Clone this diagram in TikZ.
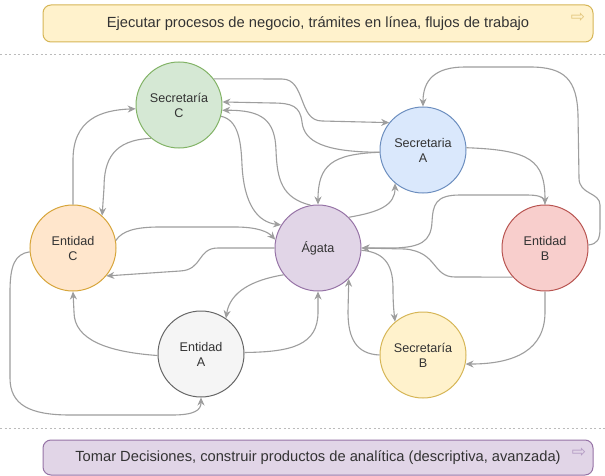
\documentclass[tikz,border=0pt]{standalone}
\usepackage{fontspec}
\setmainfont{Liberation Sans}
\newfontfamily\symfont{DejaVu Sans}
\usetikzlibrary{arrows.meta}
\definecolor{edgegray}{HTML}{9E9E9E}
\definecolor{textc}{HTML}{333333}
\definecolor{greenF}{HTML}{D5E8D4}\definecolor{greenS}{HTML}{82B366}
\definecolor{blueF}{HTML}{DAE8FC}\definecolor{blueS}{HTML}{6C8EBF}
\definecolor{orangeF}{HTML}{FFE6CC}\definecolor{orangeS}{HTML}{D7A53A}
\definecolor{purpleF}{HTML}{E1D5E7}\definecolor{purpleS}{HTML}{9673A6}
\definecolor{redF}{HTML}{F8CECC}\definecolor{redS}{HTML}{B85450}
\definecolor{grayF}{HTML}{F5F5F5}\definecolor{grayS}{HTML}{666666}
\definecolor{yelF}{HTML}{FFF2CC}\definecolor{yelS}{HTML}{D6B656}
\definecolor{sepc}{HTML}{BBBBBB}
\definecolor{glyphY}{HTML}{E3C77E}\definecolor{glyphP}{HTML}{B49CC4}
\begin{document}
\begin{tikzpicture}[x=1pt,y=-1pt,
  circ/.style={circle, minimum size=86pt, inner sep=0pt, line width=1pt, align=center,
    font=\fontsize{12.6}{15}\selectfont, text=textc},
  edge/.style={draw=edgegray, line width=1.1pt, -{Stealth[length=8pt,width=7pt]}, fill=none},
  banner/.style={rounded corners=8pt, line width=1pt, minimum width=550pt, inner sep=0pt,
    font=\fontsize{14.7}{17}\selectfont, text=textc},
  sep/.style={draw=sepc, line width=1pt, dash pattern=on 2pt off 2.5pt},
  glyph/.style={font=\symfont\fontsize{17}{17}\selectfont, inner sep=0pt}
]
\useasboundingbox (0,0) rectangle (605,476);
\fill[white] (0,0) rectangle (605,476);

% banners
\node[banner, fill=yelF, draw=yelS, minimum height=37pt] (top) at (318,23.5)
  {Ejecutar procesos de negocio, trámites en línea, flujos de trabajo};
\node[glyph, text=glyphY] (topArrow) at (578,18) {⇨};
\node[banner, fill=purpleF, draw=purpleS, minimum height=35pt] (bottom) at (318,457.5)
  {Tomar Decisiones, construir productos de analítica (descriptiva, avanzada)};
\node[glyph, text=glyphP] (bottomArrow) at (579,453) {⇨};

% separators
\coordinate (s1a) at (0,55); \coordinate (s1b) at (605,55);
\coordinate (s2a) at (0,428); \coordinate (s2b) at (605,428);
\draw[sep] (s1a) -- (s1b);
\draw[sep] (s2a) -- (s2b);

% nodes
\node[circ, fill=greenF, draw=greenS] (secC) at (179,105) {Secretaría\\C};
\node[circ, fill=blueF, draw=blueS] (secA) at (423,150) {Secretaria\\A};
\node[circ, fill=orangeF, draw=orangeS] (entC) at (73,248) {Entidad\\C};
\node[circ, fill=purpleF, draw=purpleS] (agata) at (318,248) {Ágata};
\node[circ, fill=redF, draw=redS] (entB) at (545,248) {Entidad\\B};
\node[circ, fill=grayF, draw=grayS] (entA) at (201,354) {Entidad\\A};
\node[circ, fill=yelF, draw=yelS] (secB) at (423,355) {Secretaría\\B};

% edges
\draw[edge] (secC.37) -- (282,79) .. controls (306,79) and (298,121) .. (322,121) -- (secA.141);
\draw[edge] (secA.183) .. controls (325,152) and (304,142) .. (302,122) .. controls (300,106) and (292,103) .. (272,103) -- (secC.4);
\draw[edge] (agata.100) .. controls (282,198) and (277,180) .. (276,150) .. controls (275,120) and (262,110) .. (secC.-7);
\draw[edge] (secC.-15) .. controls (238,120) and (241,140) .. (242,165) .. controls (244,205) and (258,222) .. (agata.148);
\draw[edge] (secA.183) .. controls (332,154) and (318,165) .. (agata.90);
\draw[edge] (agata.45) .. controls (380,212) and (395,205) .. (secA.230);
\draw[edge] (secA.3) .. controls (530,150) and (545,160) .. (entB.90);
\draw[edge] (entB.4) .. controls (597,244) and (600,240) .. (600,228) -- (600,205) .. controls (600,192) and (579,195) .. (579,178) -- (578,115) .. controls (577,80) and (565,67) .. (530,67) -- (465,67) .. controls (435,67) and (423,80) .. (secA.90);
\draw[edge] (entB.90) .. controls (545,196) and (538,195) .. (525,195) -- (460,195) .. controls (435,195) and (433,205) .. (432,222) .. controls (431,242) and (420,247) .. (395,248) -- (agata.0);
\draw[edge] (entB.222) -- (455,277) .. controls (432,277) and (438,252) .. (405,249) -- (agata.0);
\draw[edge] (agata.-3) .. controls (382,252) and (393,262) .. (393,288) .. controls (393,305) and (394,312) .. (secB.130);
\draw[edge] (secB.180) .. controls (356,354) and (348,338) .. (348,312) -- (agata.-45);
\draw[edge] (entB.-90) -- (545,312) .. controls (545,350) and (515,364) .. (secB.-12);
\draw[edge] (agata.218) .. controls (252,280) and (230,292) .. (entA.55);
\draw[edge] (entA.2) .. controls (292,352) and (318,345) .. (318,312) -- (agata.-90);
\draw[edge] (entA.182) .. controls (108,352) and (74,340) .. (74,312) -- (entC.-90);
\draw[edge] (entC.185) .. controls (15,254) and (10,265) .. (10,292) -- (10,378) .. controls (10,405) and (30,415) .. (70,415) -- (172,415) .. controls (195,415) and (201,410) .. (entA.-90);
\draw[edge] (entC.10) .. controls (122,231) and (135,227) .. (160,227) -- (235,227) .. controls (258,227) and (268,232) .. (agata.169);
\draw[edge] (agata.180) -- (218,248) .. controls (197,248) and (203,270) .. (180,271) -- (entC.-40);
\draw[edge] (entC.90) -- (73,160) .. controls (73,120) and (100,110) .. (secC.185);
\draw[edge] (secC.230) .. controls (113,140) and (104,160) .. (104,188) -- (entC.48);
\end{tikzpicture}
\end{document}
